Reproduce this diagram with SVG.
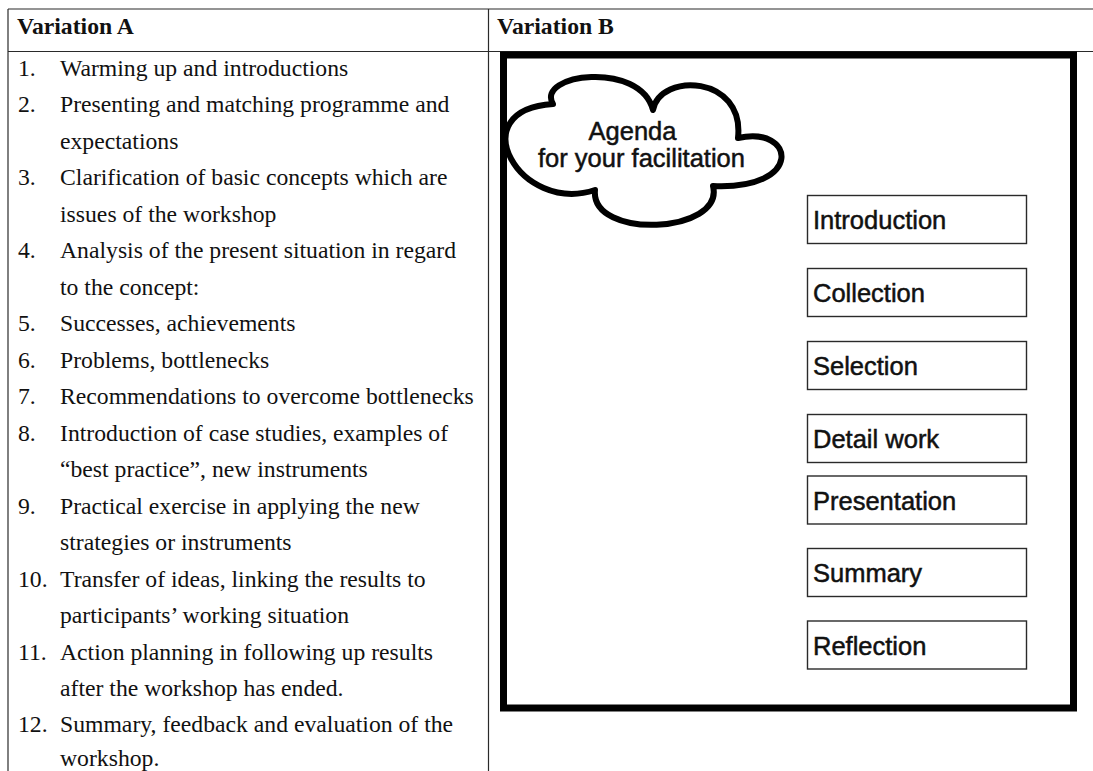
<svg xmlns="http://www.w3.org/2000/svg" width="1093" height="771" viewBox="0 0 1093 771">
  <style>
    .rule { stroke: #2a2a2a; stroke-width: 1.2; fill: none; }
    .serif { font-family: "Liberation Serif", "Times New Roman", serif; font-size: 23.7px; fill: #111; }
    .head { font-weight: bold; }
    .sans { font-family: "Liberation Sans", Arial, sans-serif; font-size: 25.5px; fill: #111; stroke: #111; stroke-width: 0.5; }
    .step rect { fill: #fff; stroke: #2a2a2a; stroke-width: 1.4; }
  </style>

  <rect width="1093" height="771" fill="#fff"/>

  <!-- table grid -->
  <g id="table-grid">
    <line class="rule" x1="8" y1="9" x2="1093" y2="9"/>
    <line class="rule" x1="8" y1="51.5" x2="1093" y2="51.5"/>
    <line class="rule" x1="8" y1="9" x2="8" y2="771"/>
    <line class="rule" x1="488.5" y1="9" x2="488.5" y2="771"/>
  </g>

  <!-- left column: agenda list -->
  <g id="variation-a" class="serif">
    <text class="head" x="17" y="34">Variation A</text>
    <g id="numbers">
      <text x="18" y="75.5">1.</text>
      <text x="18" y="112">2.</text>
      <text x="18" y="185">3.</text>
      <text x="18" y="258">4.</text>
      <text x="18" y="331">5.</text>
      <text x="18" y="367.5">6.</text>
      <text x="18" y="404">7.</text>
      <text x="18" y="440.5">8.</text>
      <text x="18" y="513.5">9.</text>
      <text x="18" y="586.5">10.</text>
      <text x="18" y="659.5">11.</text>
      <text x="18" y="732">12.</text>
    </g>
    <g id="items">
      <text x="60" y="75.5">Warming up and introductions</text>
      <text x="60" y="112">Presenting and matching programme and</text>
      <text x="60" y="148.5">expectations</text>
      <text x="60" y="185">Clarification of basic concepts which are</text>
      <text x="60" y="221.5">issues of the workshop</text>
      <text x="60" y="258">Analysis of the present situation in regard</text>
      <text x="60" y="294.5">to the concept:</text>
      <text x="60" y="331">Successes, achievements</text>
      <text x="60" y="367.5">Problems, bottlenecks</text>
      <text x="60" y="404">Recommendations to overcome bottlenecks</text>
      <text x="60" y="440.5">Introduction of case studies, examples of</text>
      <text x="60" y="477">“best practice”, new instruments</text>
      <text x="60" y="513.5">Practical exercise in applying the new</text>
      <text x="60" y="550">strategies or instruments</text>
      <text x="60" y="586.5">Transfer of ideas, linking the results to</text>
      <text x="60" y="623">participants’ working situation</text>
      <text x="60" y="659.5">Action planning in following up results</text>
      <text x="60" y="696">after the workshop has ended.</text>
      <text x="60" y="732">Summary, feedback and evaluation of the</text>
      <text x="60" y="765.5">workshop.</text>
    </g>
  </g>

  <!-- right column: facilitation board -->
  <g id="variation-b">
    <text class="serif head" x="497" y="34">Variation B</text>
    <rect id="board" x="503.5" y="55" width="570" height="653" fill="none" stroke="#000" stroke-width="7"/>
  </g>

  <g id="cloud">
    <path d="M553,104 C535,74 640,60 653,110 C660,72 745,75 738,138 C795,125 805,190 713,186 C725,234 590,240 595,190 C520,215 460,110 553,104 Z"
          fill="#fff" stroke="#000" stroke-width="6" stroke-linejoin="round"/>
    <text class="sans" x="632.5" y="140" text-anchor="middle">Agenda</text>
    <text class="sans" x="641.5" y="166.5" text-anchor="middle">for your facilitation</text>
  </g>

  <g id="step-introduction" class="step">
    <rect x="807.5" y="195.5" width="219" height="48"/>
    <text class="sans" x="813" y="229">Introduction</text>
  </g>
  <g id="step-collection" class="step">
    <rect x="807.5" y="268.5" width="219" height="48"/>
    <text class="sans" x="813" y="302">Collection</text>
  </g>
  <g id="step-selection" class="step">
    <rect x="807.5" y="341.5" width="219" height="48"/>
    <text class="sans" x="813" y="375">Selection</text>
  </g>
  <g id="step-detail-work" class="step">
    <rect x="807.5" y="414.5" width="219" height="48"/>
    <text class="sans" x="813" y="448">Detail work</text>
  </g>
  <g id="step-presentation" class="step">
    <rect x="807.5" y="476" width="219" height="48"/>
    <text class="sans" x="813" y="509.5">Presentation</text>
  </g>
  <g id="step-summary" class="step">
    <rect x="807.5" y="548.5" width="219" height="48"/>
    <text class="sans" x="813" y="582">Summary</text>
  </g>
  <g id="step-reflection" class="step">
    <rect x="807.5" y="621" width="219" height="48"/>
    <text class="sans" x="813" y="654.5">Reflection</text>
  </g>
</svg>
